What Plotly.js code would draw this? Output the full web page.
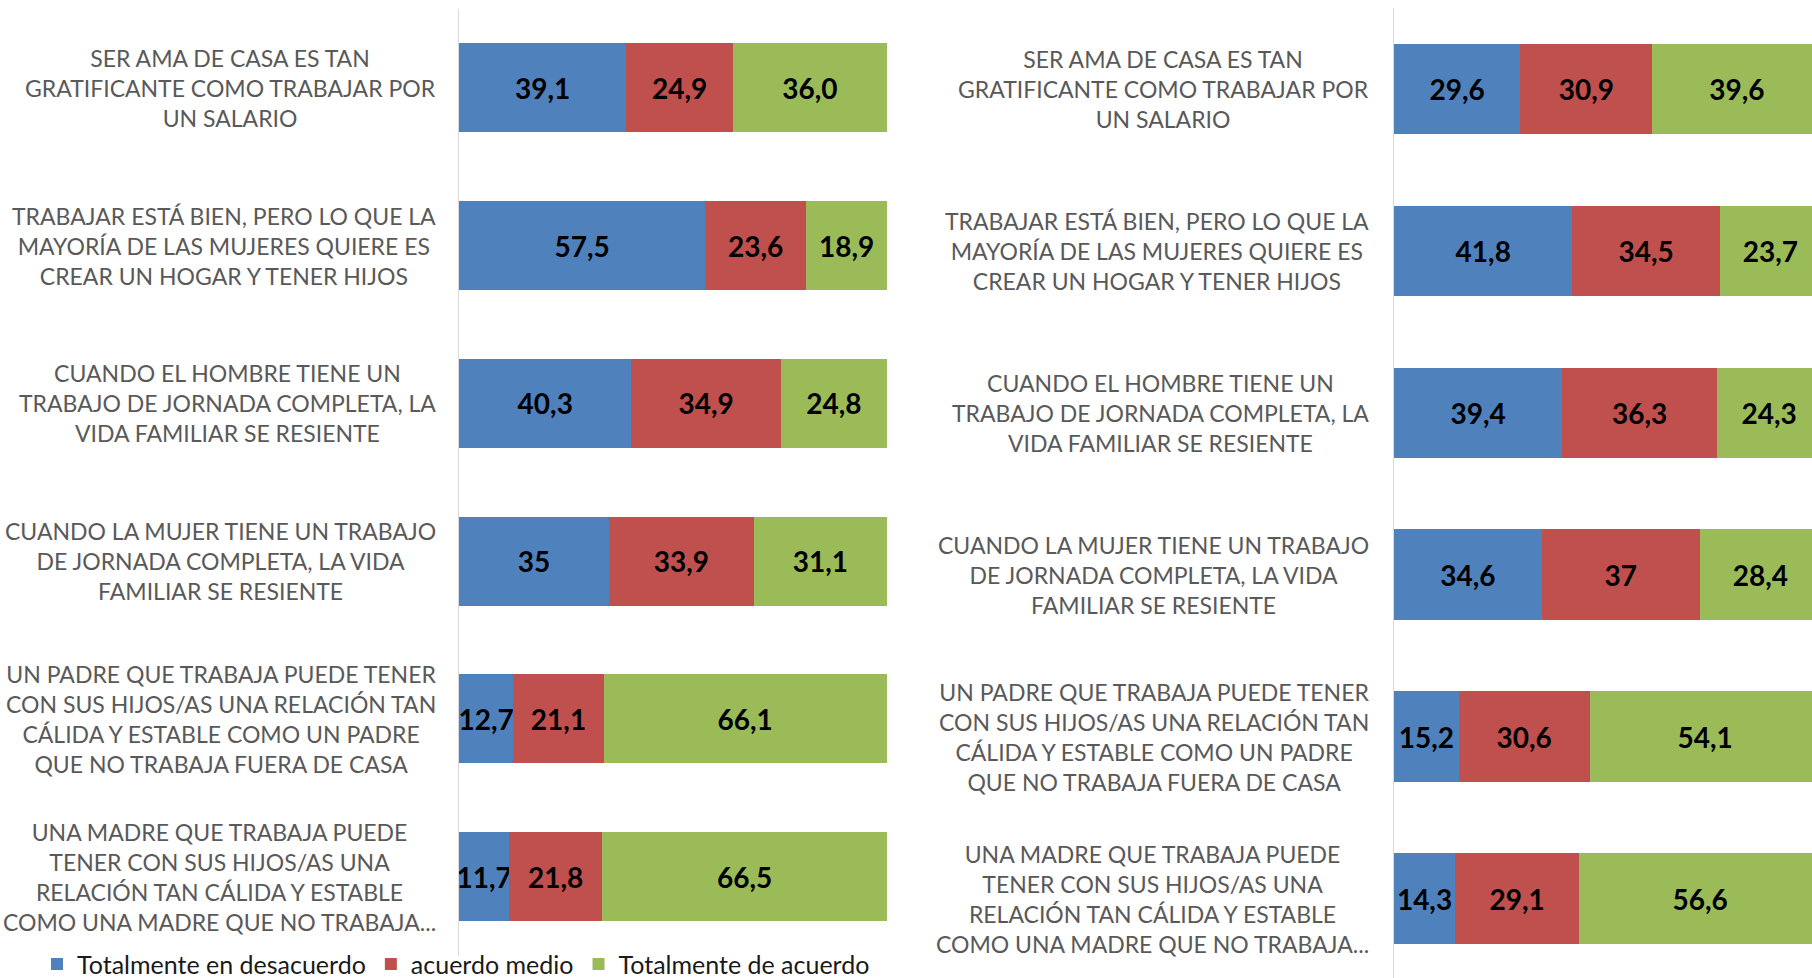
<!DOCTYPE html>
<html>
<head>
<meta charset="utf-8">
<script src="https://cdn.plot.ly/plotly-3.0.1.min.js"></script>
<style>html,body{margin:0;padding:0;background:#fff;}#chart{width:1812px;height:978px;}</style>
</head>
<body>
<div id="chart"></div>
<script>
const categories = [
  "SER AMA DE CASA ES TAN<br>GRATIFICANTE COMO TRABAJAR POR<br>UN SALARIO",
  "TRABAJAR ESTÁ BIEN, PERO LO QUE LA<br>MAYORÍA DE LAS MUJERES QUIERE ES<br>CREAR UN HOGAR Y TENER HIJOS",
  "CUANDO EL HOMBRE TIENE UN<br>TRABAJO DE JORNADA COMPLETA, LA<br>VIDA FAMILIAR SE RESIENTE",
  "CUANDO LA MUJER TIENE UN TRABAJO<br>DE JORNADA COMPLETA, LA VIDA<br>FAMILIAR SE RESIENTE",
  "UN PADRE QUE TRABAJA PUEDE TENER<br>CON SUS HIJOS/AS UNA RELACIÓN TAN<br>CÁLIDA Y ESTABLE COMO UN PADRE<br>QUE NO TRABAJA FUERA DE CASA",
  "UNA MADRE QUE TRABAJA PUEDE<br>TENER CON SUS HIJOS/AS UNA<br>RELACIÓN TAN CÁLIDA Y ESTABLE<br>COMO UNA MADRE QUE NO TRABAJA..."
];
const seriesNames = ["Totalmente en desacuerdo", "acuerdo medio", "Totalmente de acuerdo"];
const seriesColors = ["#4F81BD", "#C0504D", "#9BBB59"];

// Left panel
const leftDesacuerdo = [39.1, 57.5, 40.3, 35, 12.7, 11.7];
const leftMedio      = [24.9, 23.6, 34.9, 33.9, 21.1, 21.8];
const leftAcuerdo    = [36.0, 18.9, 24.8, 31.1, 66.1, 66.5];
const leftDesacuerdoLabels = ["39,1", "57,5", "40,3", "35", "12,7", "11,7"];
const leftMedioLabels      = ["24,9", "23,6", "34,9", "33,9", "21,1", "21,8"];
const leftAcuerdoLabels    = ["36,0", "18,9", "24,8", "31,1", "66,1", "66,5"];

// Right panel
const rightDesacuerdo = [29.6, 41.8, 39.4, 34.6, 15.2, 14.3];
const rightMedio      = [30.9, 34.5, 36.3, 37, 30.6, 29.1];
const rightAcuerdo    = [39.6, 23.7, 24.3, 28.4, 54.1, 56.6];
const rightDesacuerdoLabels = ["29,6", "41,8", "39,4", "34,6", "15,2", "14,3"];
const rightMedioLabels      = ["30,9", "34,5", "36,3", "37", "30,6", "29,1"];
const rightAcuerdoLabels    = ["39,6", "23,7", "24,3", "28,4", "54,1", "56,6"];

const FONT = "Lato, 'Open Sans', sans-serif";
const labelFont = {family: FONT, size: 28, color: "#000000", weight: "bold"};

function barTrace(vals, labels, idx, xa, ya, showLegend, width) {
  return {
    type: "bar", orientation: "h",
    x: vals, y: categories,
    xaxis: xa, yaxis: ya,
    name: seriesNames[idx],
    showlegend: showLegend,
    marker: {color: seriesColors[idx], line: {width: 0}},
    width: width,
    text: labels,
    texttemplate: "<b>%{text}</b>",
    textposition: "inside",
    insidetextanchor: "middle",
    textangle: 0,
    constraintext: "none",
    insidetextfont: labelFont,
    cliponaxis: true,
    hoverinfo: "skip"
  };
}

const data = [
  barTrace(leftDesacuerdo, leftDesacuerdoLabels, 0, "x", "y", true, 0.565),
  barTrace(leftMedio, leftMedioLabels, 1, "x", "y", true, 0.565),
  barTrace(leftAcuerdo, leftAcuerdoLabels, 2, "x", "y", true, 0.565),
  barTrace(rightDesacuerdo, rightDesacuerdoLabels, 0, "x2", "y2", false, 0.56),
  barTrace(rightMedio, rightMedioLabels, 1, "x2", "y2", false, 0.56),
  barTrace(rightAcuerdo, rightAcuerdoLabels, 2, "x2", "y2", false, 0.56)
];

const W = 1812, H = 978;
const catFont = {family: FONT, size: 23, color: "#595959"};
const annotations = [];
categories.forEach(function (c) {
  annotations.push({
    xref: "paper", yref: "y", x: 438 / W, y: c,
    xanchor: "right", yanchor: "middle", align: "center",
    text: c, showarrow: false, font: catFont
  });
  annotations.push({
    xref: "paper", yref: "y2", x: 1371 / W, y: c,
    xanchor: "right", yanchor: "middle", align: "center",
    text: c, showarrow: false, font: catFont
  });
});

const axisCommon = {
  type: "category",
  categoryorder: "array",
  categoryarray: categories,
  showticklabels: false,
  showgrid: false,
  zeroline: false,
  ticks: "",
  showline: true,
  linecolor: "#D9D9D9",
  linewidth: 1.5,
  fixedrange: true
};
const xCommon = {
  showticklabels: false, showgrid: false, zeroline: false, ticks: "",
  showline: false, fixedrange: true
};

const layout = {
  width: W, height: H,
  margin: {l: 0, r: 0, t: 0, b: 0, pad: 0, autoexpand: false},
  paper_bgcolor: "#ffffff",
  plot_bgcolor: "rgba(0,0,0,0)",
  barmode: "stack",
  showlegend: true,
  legend: {
    orientation: "h",
    x: 37 / W, xanchor: "left",
    y: 0.014, yanchor: "middle",
    font: {family: FONT, size: 25, color: "#1a1a1a"},
    bgcolor: "rgba(0,0,0,0)",
    traceorder: "normal",
    itemclick: false, itemdoubleclick: false
  },
  xaxis: Object.assign({}, xCommon, {domain: [459 / W, 887 / W], range: [0, 100], anchor: "y"}),
  yaxis: Object.assign({}, axisCommon, {domain: [1 - 955.5 / H, 1 - 9 / H], range: [5.5, -0.5], anchor: "x"}),
  xaxis2: Object.assign({}, xCommon, {domain: [1394 / W, 1], range: [0, 97.9], anchor: "y2"}),
  yaxis2: Object.assign({}, axisCommon, {domain: [0, 1 - 8 / H], range: [5.49, -0.5], anchor: "x2"}),
  annotations: annotations
};

Plotly.newPlot("chart", data, layout, {displayModeBar: false, staticPlot: true});
</script>
</body>
</html>
